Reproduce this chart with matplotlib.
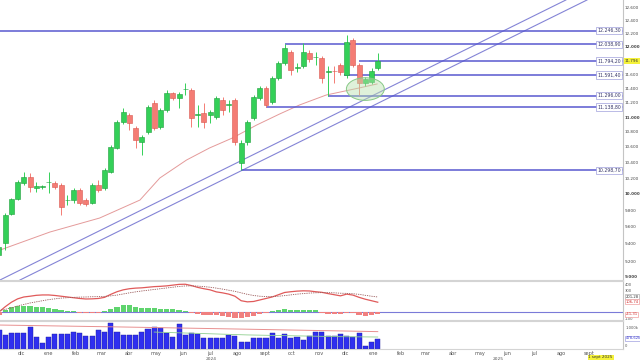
import numpy as np
import pandas as pd
import matplotlib
matplotlib.use("Agg")
import matplotlib.pyplot as plt
from matplotlib.patches import Ellipse
from matplotlib.transforms import blended_transform_factory
from matplotlib.ticker import FixedLocator, NullLocator

# ---------------- data ----------------
first_week = "2023-11-06"
opens = [9271, 9410, 9755, 9938, 10137, 10213, 10075, 10087, 10145, 10137,
         10112, 9920, 9926, 10050, 9926, 9889, 10112, 10075, 10277, 10587,
         10935, 11029, 10853, 10666, 10799, 11194, 10867, 11097, 11333, 11264,
         11385, 11375, 11029, 11056, 11029, 11002, 11235, 11166, 11235, 10392,
         10666, 10989, 11264, 11403, 11208, 11545, 11761, 11926, 11695, 11718,
         11911, 11845, 11835, 11640, 11652, 11732, 11588, 12105, 11732, 11474,
         11488, 11689]
highs = [9387, 9767, 9950, 10175, 10277, 10264, 10150, 10112, 10277, 10160,
         10137, 9988, 10075, 10075, 9950, 10137, 10175, 10328, 10627, 10962,
         11125, 11056, 10880, 10759, 11166, 11235, 11125, 11375, 11348, 11348,
         11474, 11403, 11166, 11194, 11097, 11291, 11277, 11235, 11264, 10693,
         10962, 11306, 11433, 11433, 11574, 11790, 12039, 11955, 11761, 12060,
         11955, 11926, 11865, 11718, 11718, 11761, 12180, 12135, 11761, 11559,
         11689, 11911]
lows = [9237, 9329, 9743, 9926, 10112, 10025, 10025, 10062, 10012, 10062,
        9743, 9864, 9889, 9864, 9852, 9877, 10025, 10050, 10264, 10574,
        10908, 10826, 10587, 10496, 10773, 10826, 10840, 11070, 11235, 11125,
        11306, 10867, 10867, 10853, 10921, 10975, 11029, 11070, 10627, 10299,
        10627, 10962, 11235, 11139, 11180, 11517, 11732, 11588, 11631, 11689,
        11776, 11732, 11474, 11296, 11474, 11588, 11545, 11703, 11306, 11433,
        11460, 11660]
closes = [9364, 9743, 9938, 10150, 10213, 10087, 10100, 10090, 10150, 10087,
          9840, 9926, 10050, 9889, 9877, 10112, 10050, 10302, 10601, 10934,
          11070, 10921, 10693, 10732, 11139, 10853, 11097, 11333, 11264, 11320,
          11391, 10989, 11035, 10935, 11070, 11264, 11097, 11172, 10666, 10653,
          10934, 11277, 11403, 11166, 11545, 11761, 11985, 11660, 11703, 11926,
          11820, 11850, 11545, 11646, 11646, 11631, 12075, 11732, 11474, 11531,
          11646, 11796]

# moving average (read at sparse weeks)
ma_week = [0.16, 8.2, 16.2, 22.7, 25.9, 30.2, 33.9, 37.6, 41.5, 45.2, 48.4, 52.7, 58.0, 60.9]
ma_vals = [9328, 9539, 9706, 9925, 10200, 10430, 10587, 10719, 10893, 11043, 11167, 11306, 11405, 11462]

# horizontal levels and the week where each starts
levels = [12246.30, 12038.90, 11794.20, 11591.40, 11296.00, 11138.80, 10298.70]
level_start = [-1, 46, 58, 55.5, 53, 43, 39]
level_labels = ["12.246,30", "12.038,90", "11.794,20", "11.591,40", "11.296,00", "11.138,80", "10.298,70"]

# channel lines (two anchor points each: week, price)
chan_a = ([0.16, 91.3], [8988, 12720])
chan_b = ([3.38, 94.7], [8988, 12720])

last_price_label = "11.796"

macd = [0, 70, 130, 175, 200, 210, 222, 227, 227, 220, 210, 200, 190, 180, 173, 175,
        180, 195, 235, 270, 295, 310, 318, 322, 330, 338, 342, 348, 358, 368, 370, 352,
        328, 310, 295, 268, 255, 238, 210, 150, 135, 140, 160, 180, 200, 230, 260, 270,
        278, 282, 280, 270, 262, 245, 230, 215, 238, 225, 195, 170, 150, 130]
signal = [20, 35, 55, 80, 100, 120, 135, 150, 165, 175, 185, 190, 195, 198, 200, 203,
          205, 208, 215, 225, 240, 255, 268, 280, 290, 300, 310, 320, 330, 340, 347, 348,
          345, 338, 330, 318, 305, 290, 275, 255, 235, 220, 210, 205, 205, 210, 218, 228,
          238, 245, 252, 256, 258, 258, 255, 250, 248, 243, 235, 222, 210, 200]
hist = [-40, 33, 67, 80, 80, 80, 73, 67, 53, 40, 27, 13, 7, -13, -20, -13,
        -13, 13, 40, 67, 87, 87, 67, 53, 53, 47, 40, 40, 40, 27, 13, -20,
        -33, -40, -40, -40, -47, -67, -80, -80, -67, -47, -27, -13, 13, 33, 40, 33,
        27, 27, 27, 20, -13, -27, -27, -27, -13, -20, -40, -47, -40, -33]
volume = [864, 636, 727, 727, 727, 1000, 545, 273, 545, 682, 682, 682, 773, 727, 591, 591,
          864, 773, 1182, 773, 636, 636, 636, 773, 909, 1000, 955, 727, 545, 1136, 636, 727,
          682, 500, 500, 500, 500, 636, 591, 318, 318, 500, 500, 500, 727, 500, 682, 500,
          545, 409, 591, 773, 773, 591, 591, 682, 591, 545, 727, 136, 318, 455]
vol_ma1_week = [0, 20, 40, 61]
vol_ma1 = [1090, 1000, 900, 790]
vol_ma2_week = [25, 40, 55, 61]
vol_ma2 = [770, 640, 560, 545]

month_labels = ["nov", "dic", "ene", "feb", "mar", "abr", "may", "jun", "jul", "ago", "sept", "oct",
                "nov", "dic", "ene", "feb", "mar", "abr", "may", "jun", "jul", "ago", "sept"]
year_labels = ["2024", "2025"]

# ---------------- helpers ----------------
weeks = pd.date_range(first_week, periods=len(opens), freq="7D")
t0 = weeks[0]
def widx(d):
    return (pd.Timestamp(d) - t0).days / 7.0

xi = np.arange(len(opens))
o = np.array(opens, float); c = np.array(closes, float)
h = np.array(highs, float); l = np.array(lows, float)

GREEN = "#34d058"; GREEN_E = "#1f9e3c"
RED = "#f47c74"; RED_E = "#d9574f"
LEVEL = "#5858d0"; CHAN = "#8484d6"
XMIN, XMAX = 0.16, 100.5
TICKFS = 3.0
SIDEFS = 2.7

fig = plt.figure(figsize=(6.4, 3.6), dpi=100)
W = 623 / 640
ax = fig.add_axes([0, 80 / 360, W, 280 / 360])
axm = fig.add_axes([0, 40 / 360, W, 39 / 360], sharex=ax)
axv = fig.add_axes([0, 11 / 360, W, 28 / 360], sharex=ax)

for a in (ax, axm, axv):
    a.spines["left"].set_visible(False)
    a.spines["right"].set_color("#c4c4c4"); a.spines["right"].set_linewidth(0.8)
    a.spines["top"].set_color("#d4d4d4"); a.spines["top"].set_linewidth(0.8)
    a.spines["bottom"].set_color("#d4d4d4"); a.spines["bottom"].set_linewidth(0.8)
    a.set_facecolor("white")
ax.spines["top"].set_visible(False)

# ---------------- main price panel ----------------
ax.set_yscale("log")
up = c >= o
col = np.where(up, GREEN, RED)
ecol = np.where(up, GREEN_E, RED_E)
ax.vlines(xi, l, h, colors=col, linewidth=0.7, zorder=3)
body_bot = np.minimum(o, c)
body_h = np.maximum(np.abs(c - o), 8)
ax.bar(xi, body_h, bottom=body_bot, width=0.8, color=col, edgecolor=ecol, linewidth=0.4, zorder=4)

ax.plot(ma_week, ma_vals, color="#e49a9a", linewidth=0.7, zorder=2)
ax.plot(chan_a[0], chan_a[1], color=CHAN, linewidth=0.8, zorder=2)
ax.plot(chan_b[0], chan_b[1], color=CHAN, linewidth=0.8, zorder=2)

trans = blended_transform_factory(ax.transAxes, ax.transData)
for lv, st, lab in zip(levels, level_start, level_labels):
    ax.hlines(lv, st, XMAX, color=LEVEL, linewidth=1.1, zorder=2)
    ax.text(0.997, lv, lab, transform=trans, ha="right", va="center", fontsize=3.3,
            color="#333366", zorder=6,
            bbox=dict(boxstyle="square,pad=0.25", fc="white", ec="#a0a0dc", lw=0.5))

ell = Ellipse((59, 11391), width=6.1, height=320, facecolor=(0.72, 0.88, 0.68, 0.45),
              edgecolor="#86c886", linewidth=0.7, zorder=5)
ax.add_patch(ell)

ax.set_xlim(XMIN, XMAX)
ax.set_ylim(8988, 12720)
yt = list(range(9200, 12601, 200))
ax.yaxis.set_major_locator(FixedLocator(yt))
ax.yaxis.set_minor_locator(NullLocator())
ax.yaxis.tick_right()
ax.set_yticklabels([f"{v:,}".replace(",", ".") for v in yt])
for v, t in zip(yt, ax.get_yticklabels()):
    if v % 1000 == 0:
        t.set_fontweight("bold")
        t.set_fontsize(2.85)
ax.tick_params(axis="y", length=0, pad=1.0, labelsize=TICKFS, colors="#444444")
ax.tick_params(axis="x", length=0, labelbottom=False)
for v, t in zip(yt, ax.get_yticklabels()):
    if v % 1000 == 0:
        t.set_fontsize(2.85)
# the 9.000 tick sits on the panel's lower edge
ax.text(1.003, 0.01, "9.000", transform=ax.transAxes, ha="left", va="center",
        fontsize=2.85, fontweight="bold", color="#444444", clip_on=False)
ax.text(1.003, closes[-1], last_price_label, transform=trans, ha="left", va="center",
        fontsize=TICKFS, color="#333333", zorder=10, clip_on=False,
        bbox=dict(boxstyle="square,pad=0.2", fc="#f5f23a", ec="none"))

# ---------------- MACD panel ----------------
hist_a = np.array(hist, float)
axm.bar(xi, hist_a, width=0.85, color=np.where(hist_a >= 0, "#5fd46e", "#f08080"), linewidth=0, zorder=2)
axm.axhline(0, color="#7a7ad8", linewidth=0.8, zorder=1)
axm.plot(xi, macd, color="#e05a5a", linewidth=0.9, zorder=3)
axm.plot(xi, signal, color="#9a5a5a", linewidth=0.6, linestyle=(0, (1.5, 1.2)), zorder=3)
axm.set_ylim(-107, 413)
mt = [370, 280, -90]
axm.yaxis.set_major_locator(FixedLocator(mt))
axm.yaxis.tick_right()
axm.set_yticklabels(["400", "300", "-100"])
axm.tick_params(axis="y", length=0, pad=1.5, labelsize=SIDEFS, colors="#555555")
axm.tick_params(axis="x", length=0, labelbottom=False)
mtrans = blended_transform_factory(axm.transAxes, axm.transData)
for val, lab, fc, ec in [(201, "201,28", "#333333", "#b0b0b0"),
                         (135, "106,74", "#d03030", "#f0a0a0"),
                         (-30, "-41,31", "#d03030", "#f0a0a0")]:
    axm.text(1.004, val, lab, transform=mtrans, ha="left", va="center", fontsize=SIDEFS,
             color=fc, clip_on=False, zorder=10,
             bbox=dict(boxstyle="square,pad=0.15", fc="white", ec=ec, lw=0.5))

# ---------------- volume panel ----------------
axv.bar(xi, volume, width=0.82, color="#2f2ff0", edgecolor="#1c1c9a", linewidth=0.3, zorder=2)
axv.plot(vol_ma1_week, vol_ma1, color="#e89090", linewidth=0.7, zorder=3)
axv.plot(vol_ma2_week, vol_ma2, color="#8fcf8f", linewidth=0.6, zorder=3)
axv.set_ylim(0, 1273)
axv.yaxis.set_major_locator(FixedLocator([1000, 150]))
axv.yaxis.tick_right()
axv.set_yticklabels(["1.000k", "0"])
axv.tick_params(axis="y", length=0, pad=1.5, labelsize=SIDEFS, colors="#555555")
vtrans = blended_transform_factory(axv.transAxes, axv.transData)
axv.text(1.004, 478.62, "478,62k", transform=vtrans, ha="left", va="center", fontsize=SIDEFS,
         color="#3a3ad0", clip_on=False, zorder=10,
         bbox=dict(boxstyle="square,pad=0.15", fc="white", ec="#a0a0e0", lw=0.5))

month_dates = pd.date_range("2023-11-01", periods=len(month_labels), freq="MS")
mpos = [widx(d) for d in month_dates]
axv.xaxis.set_major_locator(FixedLocator(mpos))
axv.set_xticklabels(month_labels)
axv.tick_params(axis="x", length=0, pad=1.5, labelsize=3.6, colors="#555555")
axv.set_xlim(XMIN, XMAX)

xt = blended_transform_factory(axv.transData, axv.transAxes)
span_2024 = (widx("2024-01-01") + widx("2025-01-01")) / 2
span_2025 = (widx("2025-01-01") + XMAX) / 2
for pos, lab in zip([span_2024, span_2025], year_labels):
    axv.text(pos, -0.36, lab, transform=xt, ha="center", va="center", fontsize=3.2,
             color="#555555", clip_on=False)
axv.text(96.9, -0.3, "1 sept 2025", transform=xt, ha="center", va="center", fontsize=3.0,
         color="#333333", clip_on=False, zorder=10,
         bbox=dict(boxstyle="square,pad=0.2", fc="#f5f23a", ec="none"))

fig.savefig("out.png", dpi=100, facecolor="white")
